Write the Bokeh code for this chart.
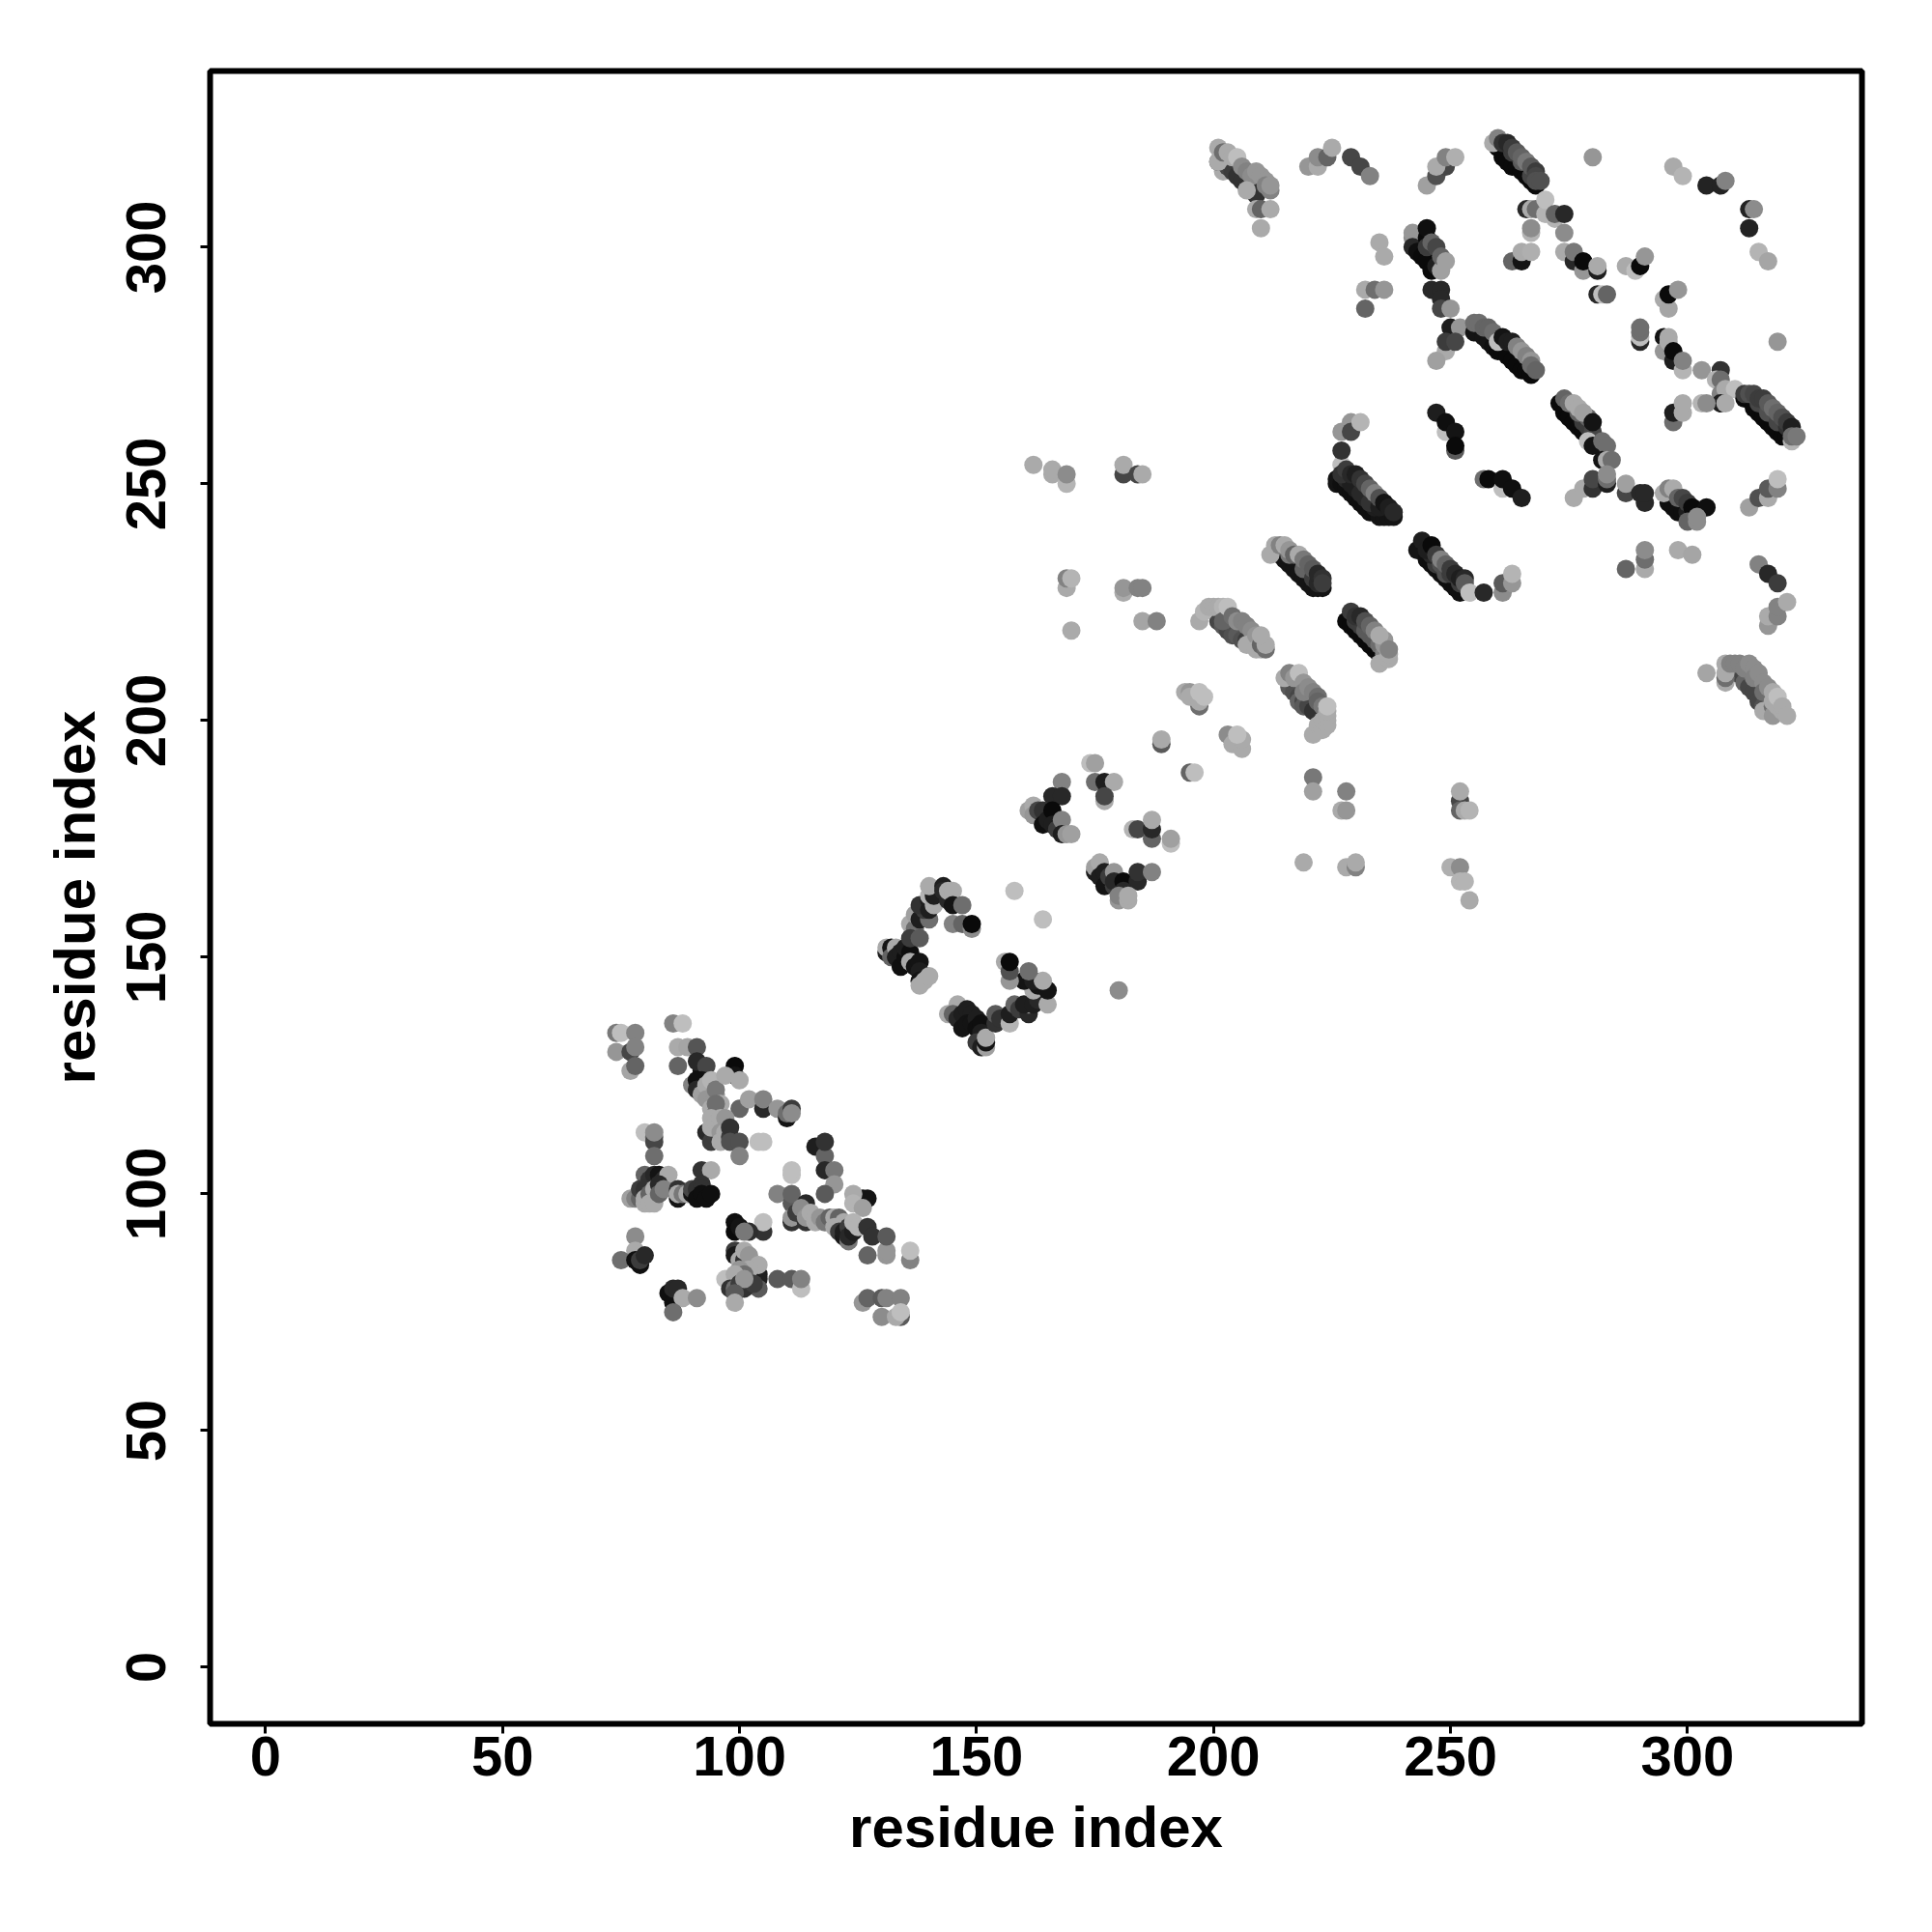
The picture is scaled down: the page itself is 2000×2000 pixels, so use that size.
from bokeh.plotting import figure
from bokeh.embed import file_html
from bokeh.resources import INLINE
from bokeh.models import FixedTicker, ColumnDataSource, Range1d

x_ticks = [0, 50, 100, 150, 200, 250, 300]
y_ticks = [0, 50, 100, 150, 200, 250, 300]
x_label = "residue index"
y_label = "residue index"

# each entry: residue i, residue j, grey level (0 black .. 255 white)
cluster_lowleft = [
(74,134,120),(75,134,190),(78,134,130),(74,130,150),(77,130,70),(77,126,165),(78,127,100),(78,131,130),
(86,136,130),(88,136,190),(87,131,170),(89,131,165),(87,127,100),(91,131,85),(92,126,20),(91,128,40),(93,127,70),
(92,124,20),(93,122,30),(90,123,130),(91,124,15),(91,122,40),(92,121,160),(93,123,170),(94,124,180),(93,120,150),(94,119,150),(94,118,170),(95,121,150),(95,122,120),(96,119,170),(95,117,120),(95,119,110),
(99,127,10),(99,125,20),(97,125,170),(100,124,170),(100,118,100),(102,120,160),(105,118,40),(105,120,130),
(108,118,150),(110,116,20),(110,117,110),(111,118,60),(111,117,140),
(93,113,40),(94,111,60),(95,112,60),(94,114,170),(94,116,170),(95,115,170),(96,115,170),(96,116,170),(97,116,150),(96,113,150),(96,111,170),(97,113,170),(98,112,60),(98,114,50),(98,111,80),(100,111,80),(100,108,130),(104,111,190),(105,111,190),
(80,113,190),(82,112,100),(82,111,70),(82,113,140),(82,108,110),(80,104,100),(81,103,50),(82,104,40),(83,104,20),(84,103,40),(85,104,170),
(77,99,160),(78,99,130),(79,99,100),(79,101,60),(80,101,50),(80,99,170),(80,98,170),(81,100,100),(81,98,170),(82,98,170),(82,101,170),(83,102,40),(83,100,100),(84,101,130),
(87,99,20),(87,101,50),(87,100,170),(88,100,120),(89,100,170),(90,100,20),(90,101,70),(92,105,50),(94,105,170),(92,102,50),(91,101,50),(92,101,50),(91,99,15),(92,100,15),(93,99,15),(94,100,15),
(99,94,15),(99,92,10),(100,93,20),(105,92,50),(105,94,190),(102,92,45),(101,92,120),(99,88,60),(99,87,25),(100,86,170),(101,85,60),(101,86,50),(101,88,170),(102,87,150),
(104,83,30),(104,82,30),(104,80,90),(104,85,170),(102,84,170),(100,84,150),(101,83,110),(97,82,190),(99,83,170),(98,80,50),(99,80,110),(100,80,50),(100,81,60),(101,80,50),(103,81,60),(101,82,150),(99,79,90),(99,77,170),
(108,82,90),(111,82,90),(113,80,190),(113,82,130),
(111,104,190),(111,105,190),(108,100,130),(111,98,90),(111,100,100),(114,98,40),(111,94,50),(111,95,150),(112,96,60),(113,97,140),(114,94,50),(114,95,150),(115,96,170),(116,94,170),(116,95,170),(117,95,150),(118,94,120),(119,95,100),(120,95,170),
(116,110,30),(118,108,100),(118,111,50),(118,105,40),(120,105,120),(120,102,150),(118,100,90),
(126,99,20),(127,99,20),(124,100,170),(124,98,180),(126,97,160),(121,95,100),(122,94,170),(120,93,170),(121,92,60),(122,91,25),(122,92,30),(123,93,60),(123,90,120),(123,91,40),(124,92,30),(124,94,180),(125,93,180),(127,93,50),(128,91,50),
(131,87,150),(131,88,150),(131,91,90),(127,87,100),(136,86,130),(136,88,190),
(78,91,140),(78,88,170),(75,86,110),(78,86,15),(79,85,15),(79,86,60),(80,87,40),
(85,79,15),(86,77,15),(86,80,40),(87,80,40),(88,78,170),(91,78,140),(86,75,110),
(126,77,150),(127,78,100),(130,78,90),(131,78,130),(134,78,130),(130,74,140),(134,74,90),(133,74,170),(134,75,190),
]
cluster_c_shape = [
(131,151,30),(131,152,170),(132,152,20),(132,150,100),(133,152,170),(133,150,30),(134,151,30),(134,148,15),(135,150,15),(135,152,30),(136,151,15),(136,149,170),(137,148,20),(138,149,20),(138,147,30),(138,145,20),(139,145,170),(138,144,170),(140,146,170),
(136,157,170),(137,156,110),(136,154,60),(138,154,90),(137,159,160),(138,158,30),(140,158,110),(139,160,60),(138,161,50),(140,160,30),(140,162,30),(140,163,180),(141,161,170),(141,163,30),(140,165,170),(143,165,30),(143,164,40),(144,162,40),(144,164,170),(145,164,170),(145,161,20),(147,161,110),
(145,157,130),(147,157,100),(149,156,140),(149,157,10),
(144,138,170),(146,140,170),(145,138,100),(146,137,40),(147,138,30),(148,139,30),(149,138,30),(147,135,20),(148,136,20),(149,136,20),(150,137,30),(150,135,15),(151,136,15),(151,134,30),(150,132,60),(151,131,30),(152,131,160),(152,132,20),(152,133,170),
(154,136,50),(154,138,90),(155,137,50),(157,136,180),(157,138,30),(158,140,100),(159,139,60),(161,138,40),(161,140,150),(160,140,30),(162,140,30),(163,141,40),(165,140,170),(162,143,170),(163,144,20),(165,143,20),(160,145,20),(162,145,30),(164,145,170),(161,147,110),
(156,149,170),(157,145,150),(157,147,80),(157,149,10),
]
cluster_mid_left = [
(168,187,130),(166,184,40),(168,184,40),(161,181,160),(162,182,170),(162,180,150),(163,181,70),(164,181,50),(164,178,15),(165,179,30),(166,181,10),(166,178,30),(167,177,60),(168,179,130),(168,176,30),(169,176,150),(170,176,160),
(174,191,190),(175,191,160),(175,187,110),(177,187,30),(179,187,170),(177,183,170),(177,184,70),(183,177,180),(184,177,70),(187,175,100),(187,177,40),(187,179,170),(191,174,190),(191,175,160),
(175,168,30),(175,169,160),(176,170,170),(176,167,30),(177,168,30),(177,165,20),(178,167,60),(179,165,60),(179,168,150),(179,166,40),(181,166,10),(184,166,40),(184,168,50),(187,168,130),(180,162,150),(181,164,40),(180,163,130),(182,162,170),(182,163,170),
(158,164,190),(164,158,190),(180,143,140),
(189,195,90),(189,196,170),(195,189,100),(196,189,190),
]
cluster_far = [
(162,254,170),(166,252,170),(166,253,170),(169,250,180),(169,252,140),(181,252,70),(181,254,170),(184,252,70),(185,252,170),
(169,228,170),(169,230,130),(170,230,180),(170,219,170),(181,227,170),(181,228,150),(184,228,130),(185,228,130),(185,221,165),(188,221,130),
(221,188,120),(221,185,160),(228,185,130),(227,181,170),(228,181,150),(252,183,70),(252,181,100),(252,185,170),(253,181,170),(254,181,180),
(219,170,170),(228,169,170),(230,169,130),(230,170,170),(250,169,175),(252,169,140),(252,166,180),(253,166,180),(254,162,170),
]
strip_220 = [
(201,221,70),(202,220,90),(203,219,70),(204,218,80),(205,218,90),(206,217,80),(207,217,60),(210,215,180),(197,221,170),(198,223,180),(199,224,170),(200,224,170),(201,224,170),(202,224,180),(202,221,100),(203,224,190),(204,222,110),(205,221,140),(206,221,130),(207,220,130),(208,219,140),(207,216,170),(209,218,150),(209,215,170),(210,216,100),(211,215,110),(211,216,170),(210,218,170),
]
strip_210 = [
(216,207,90),(217,206,80),(218,205,70),(218,204,100),(219,204,70),(219,203,90),(220,203,70),(221,202,50),(215,209,170),(216,210,130),(217,209,150),(218,210,190),(219,208,150),(219,206,130),(220,207,140),(221,206,130),(222,205,110),(222,204,100),(223,203,120),(221,197,170),(222,199,170),(223,198,170),(223,200,170),(224,199,170),(224,200,170),(224,201,170),(224,202,170),(224,203,190),
]
blobs_200 = [
(197,203,110),(194,206,170),(195,206,150),(195,205,170),(197,204,170),(197,206,190),(198,205,190),
(203,197,140),(204,195,170),(206,194,170),(206,196,170),(205,197,190),
]
strip_235 = [
(214,235,20),(215,234,20),(216,233,20),(217,232,20),(218,231,20),(219,230,20),(220,229,20),(221,228,20),(222,228,20),(223,228,20),
(216,235,120),(219,232,100),(221,230,60),(222,229,40),
(212,235,170),(213,237,170),(214,237,130),(215,237,170),(216,236,150),(217,235,100),(218,235,170),(219,234,120),(220,233,100),(221,232,90),(222,231,40),(223,230,50),(223,229,60),
]
strip_222 = [
(228,221,10),(229,220,10),(230,219,10),(231,218,10),(232,217,10),(233,216,10),(234,215,10),(235,214,10),
(230,221,60),(231,220,60),(232,219,90),(233,218,90),(234,217,90),(235,216,110),(236,214,130),
(229,223,60),(230,222,50),(231,222,40),(232,221,80),(233,220,100),(234,219,130),(235,212,170),(237,213,170),(236,217,150),(236,216,150),(235,218,170),(237,214,170),(237,215,130),
]
strip_238 = [
(243,236,20),(245,234,15),(246,233,15),(247,232,15),(248,231,15),(249,230,15),(250,229,15),(251,228,15),(252,227,15),
(247,233,60),(249,231,80),(246,235,40),(248,233,80),(250,231,60),(252,229,60),
(244,238,30),(245,236,30),(246,237,10),(247,235,60),(248,234,130),(249,233,100),(250,232,60),(251,231,40),(252,230,30),(253,230,40),(253,229,90),(254,227,190),(257,227,40),(261,227,140),(261,229,90),(263,229,150),(263,231,180),
]
strip_252 = [
(226,250,20),(226,251,20),(227,250,15),(228,249,15),(229,248,15),(230,247,15),(231,246,15),(232,245,15),(233,244,15),(234,244,15),(235,243,20),(236,243,20),(237,243,20),(238,243,20),
(228,251,40),(230,249,30),(232,247,40),(234,245,30),(229,250,30),(231,248,40),(233,246,50),(235,245,30),
(227,254,190),(227,252,50),(228,253,60),(229,252,40),(230,252,30),(231,251,50),(232,250,70),(233,249,100),(234,248,130),(235,247,80),(236,246,20),(237,245,30),(238,244,40),
(227,257,50),(227,261,150),(229,263,150),(229,261,70),(231,263,180),
(249,261,190),(247,265,30),(249,263,15),(251,261,20),(251,257,90),(251,258,10),
(257,251,110),(258,251,10),(261,249,190),(261,251,15),(263,249,15),(265,247,30),
]
strip_268 = [
(273,267,10),(274,265,10),(275,264,10),(276,263,10),(277,262,10),(278,261,10),(279,260,10),
(278,263,60),(279,262,60),(280,261,70),(279,264,100),
(274,268,100),(275,267,110),(276,267,170),(277,265,100),(277,266,170),(278,265,160),(280,263,20),
(279,259,190),(280,258,20),(282,259,110),(283,258,110),(282,255,20),(283,255,170),(284,255,110),
]
strip_248 = [
(276,247,170),(278,249,170),(280,249,50),(280,251,70),(283,250,30),(283,251,110),(283,252,140),(287,248,70),(287,250,160),(290,248,40),(291,246,40),(291,248,40),
(296,246,15),(297,245,15),(298,244,15),(299,244,15),(300,244,30),(295,248,170),(296,249,130),(297,249,170),(298,247,100),(299,247,70),(300,246,60),(301,245,10),(304,245,15),(300,242,100),(302,242,140),(302,243,140),
]
cluster_lower_right = [
(287,232,100),(291,232,170),(291,234,110),(291,236,140),(298,236,170),(301,235,165),
(313,245,160),(315,247,80),(317,247,170),(317,249,90),(319,249,130),(319,251,190),
(315,233,130),(317,231,40),(319,229,60),(317,220,150),(317,222,170),(319,222,130),(319,224,130),(321,225,170),
]
strip_210_right = [
(310,210,60),(311,210,70),(312,208,100),(313,207,70),(314,206,70),(315,204,70),(316,203,80),(317,202,70),
(304,210,165),(308,208,170),(308,209,110),(308,210,170),(308,212,170),(309,212,130),(310,212,130),(311,212,130),(312,211,130),(313,212,140),(314,211,140),(314,209,130),(315,210,140),(316,208,140),(316,206,110),(317,207,140),(316,202,170),(318,203,110),(318,201,150),(318,204,170),(318,206,170),(319,203,170),(319,205,190),(320,202,170),(320,203,170),(321,201,170),
]
cluster_top = [
(202,316,170),(201,318,80),(201,321,170),(203,317,70),(204,316,60),(205,315,50),(206,314,50),(207,313,50),(208,312,50),(209,311,50),(201,318,170),(202,320,110),(203,320,170),(204,319,170),(205,319,190),(206,317,140),(207,316,130),(208,315,140),(207,312,170),(209,308,170),(210,308,100),(212,308,170),(209,316,150),(210,315,150),(211,314,150),(211,313,130),(212,312,130),(212,313,150),(210,304,170),
(220,317,150),(222,317,170),(222,319,140),(224,319,100),(225,321,170),(229,319,70),(231,317,70),(233,315,130),
(245,313,160),(247,315,80),(249,317,70),(247,317,170),(249,319,130),(251,319,175),
(235,301,170),(236,298,170),(232,291,170),(234,291,110),(236,291,150),(232,287,100),
(242,302,140),(242,303,150),(242,300,40),(243,299,15),(244,298,10),(245,297,10),(246,295,10),(245,302,10),(245,304,15),(245,300,60),(246,301,100),(247,300,70),(247,296,30),(248,295,160),(248,298,100),(249,297,160),
(246,291,40),(248,291,40),(248,289,40),(248,287,70),(250,287,150),(250,283,30),(252,283,150),(249,278,170),(247,276,160),(249,280,60),(251,280,70),
]
strip_283 = [
(255,282,20),(257,281,20),(258,280,20),(259,279,15),(260,278,10),(261,278,10),(262,277,10),(263,276,10),(264,275,10),(265,274,10),(266,274,10),(267,273,10),
(255,284,110),(256,284,110),(257,283,100),(258,283,100),(259,282,110),(260,280,190),(261,281,20),(262,280,30),(263,280,30),(264,279,130),(265,278,150),(266,277,130),(267,276,150),(267,275,110),(268,274,100),
]
strip_323 = [
(260,321,10),(261,319,10),(262,318,10),(263,317,10),(264,317,10),(265,316,10),(266,315,10),(267,314,10),(268,313,10),
(265,318,90),(263,320,60),(267,315,70),
(259,322,170),(260,323,130),(261,322,50),(262,322,40),(263,321,60),(264,320,90),(265,319,100),(266,318,120),(267,317,90),(268,316,60),(268,315,70),(268,314,80),(269,314,80),
]
cluster_top_right = [
(280,319,150),(297,317,170),(299,315,180),(304,313,35),(307,313,35),(308,314,130),(313,308,35),(314,308,140),(313,304,35),(315,299,180),(317,297,165),
(266,308,40),(267,308,170),(268,308,110),(270,307,180),(270,310,190),(272,306,180),(272,307,100),(274,307,40),(267,303,180),(267,304,140),(274,303,140),
(263,297,100),(265,297,20),(265,299,170),(267,299,175),(274,299,170),(276,297,40),(276,299,120),(278,295,150),(278,297,10),(281,295,30),(281,296,170),
(281,290,40),(282,290,190),(283,290,100),(287,296,170),(289,295,190),(290,296,10),(291,298,150),(295,289,170),(296,287,165),(296,290,10),(298,291,150),
(290,280,40),(290,281,190),(290,282,110),(290,283,110),(295,281,20),(295,278,150),(296,281,170),(296,280,170),(297,276,30),(297,278,10),(299,274,180),(299,276,130),(303,274,150),
(307,274,50),(306,272,180),(307,272,110),(307,269,130),(308,270,170),(310,270,190),(307,267,30),(308,267,170),(303,267,180),(304,267,140),
(297,263,110),(297,265,30),(299,265,170),(299,267,170),(319,280,150),
]
strip_268_right = [
(312,268,10),(313,268,10),(314,266,10),(315,265,10),(316,264,10),(317,263,10),(318,262,10),(319,261,10),(320,260,10),(321,260,10),(322,259,180),
(315,267,70),(317,265,80),(319,263,70),(321,262,50),
(312,269,60),(313,269,80),(314,269,70),(315,268,60),(316,268,60),(317,267,90),(318,266,110),(319,265,100),(320,264,80),(321,263,60),(322,262,30),(322,260,110),(323,260,120),
]

groups = [cluster_lowleft, cluster_c_shape, cluster_mid_left, cluster_far, strip_220, strip_210, blobs_200,
          strip_235, strip_222, strip_238, strip_252, strip_268, strip_248, cluster_lower_right, strip_210_right,
          cluster_top, strip_283, strip_323, cluster_top_right, strip_268_right]

xs, ys, cols = [], [], []
for g in groups:
    for a, b, c in g:
        xs.append(a); ys.append(b); cols.append("#%02x%02x%02x" % (c, c, c))

p = figure(frame_width=1710, frame_height=1711, min_border_left=217, min_border_top=73,
           min_border_right=40, min_border_bottom=165,
           x_range=Range1d(-11.7, 336.8), y_range=Range1d(-11.95, 337.2),
           output_backend="svg", toolbar_location=None, background_fill_color="white", border_fill_color="white")
p.grid.visible = False
p.outline_line_color = "black"
p.outline_line_width = 6

src = ColumnDataSource(dict(x=xs, y=ys, c=cols))
p.scatter("x", "y", source=src, size=19, fill_color="c", line_color=None, marker="circle")

for ax, t, lab in ((p.xaxis[0], x_ticks, x_label), (p.yaxis[0], y_ticks, y_label)):
    ax.ticker = FixedTicker(ticks=t)
    ax.axis_line_color = None
    ax.major_tick_line_color = "black"
    ax.major_tick_line_width = 3
    ax.major_tick_in = 0
    ax.major_tick_out = 10
    ax.minor_tick_line_color = None
    ax.major_label_text_font = "Liberation Sans"
    ax.major_label_text_font_style = "bold"
    ax.major_label_text_font_size = "58px"
    ax.major_label_text_color = "black"
    ax.axis_label = lab
    ax.axis_label_text_font = "Liberation Sans"
    ax.axis_label_text_font_style = "bold"
    ax.axis_label_text_font_size = "60px"
    ax.axis_label_text_color = "black"
p.xaxis[0].major_label_standoff = 3
p.xaxis[0].axis_label_standoff = 17
p.yaxis[0].major_label_orientation = "vertical"
p.yaxis[0].major_label_standoff = 36
p.yaxis[0].axis_label_standoff = 18

open("out.html", "w").write(file_html(p, INLINE))
